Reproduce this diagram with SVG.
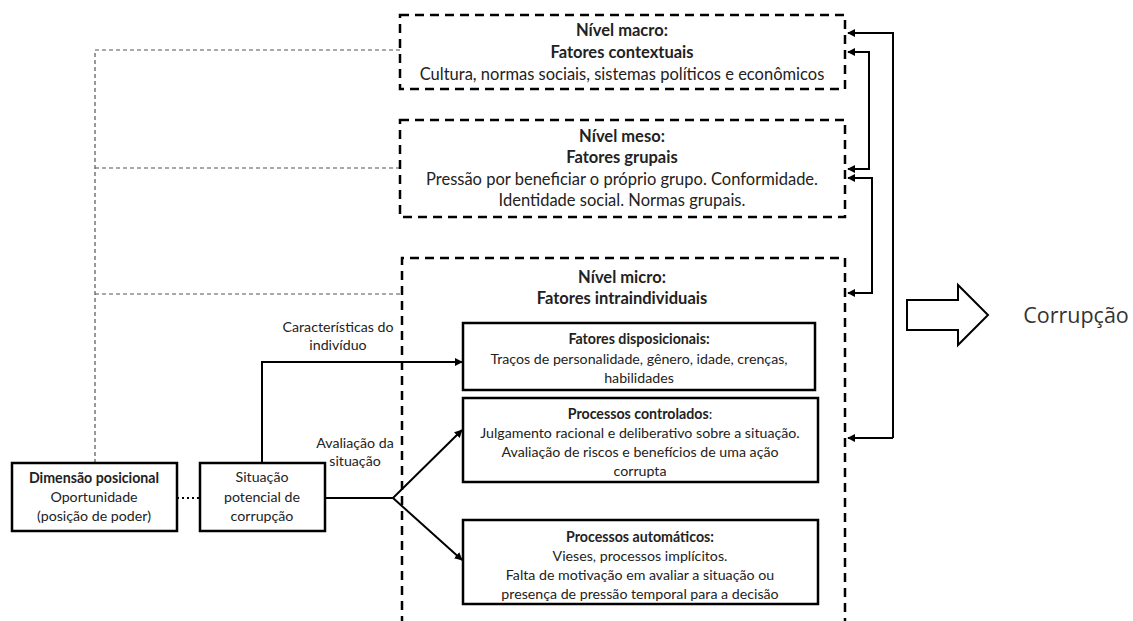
<svg xmlns="http://www.w3.org/2000/svg" width="1133" height="621" viewBox="0 0 1133 621">
<defs>
<marker id="ah" viewBox="0 0 10 10" refX="9" refY="5" markerWidth="4" markerHeight="4" orient="auto-start-reverse">
<path d="M0,0 L10,5 L0,10 z" fill="#000"/>
</marker>
<style>
text{font-family:Lato,"Liberation Sans",sans-serif;fill:#222;text-anchor:middle}
.h{font-size:16.5px;font-weight:bold}
.b{font-size:16.5px}
.s{font-size:14.2px}
.sb{font-size:14.2px;font-weight:bold}
.lvl{fill:none;stroke:#000;stroke-width:2.5;stroke-dasharray:9 6}
.box{fill:#fff;stroke:#000;stroke-width:2.5}
.guide{fill:none;stroke:#555;stroke-width:1.2;stroke-dasharray:4 3}
.con{fill:none;stroke:#000;stroke-width:2}
</style>
</defs>
<rect width="1133" height="621" fill="#fff"/>
<g id="guides">
<path class="guide" d="M95,463 V50 H400 M95,168 H400 M95,294 H402"/>
</g>
<g id="macro">
<rect class="lvl" x="400" y="15" width="445" height="74"/>
<text class="h" x="622" y="36">Nível macro:</text>
<text class="h" x="622" y="58">Fatores contextuais</text>
<text class="b" x="622" y="80">Cultura, normas sociais, sistemas políticos e econômicos</text>
</g>
<g id="meso">
<rect class="lvl" x="400" y="120" width="445" height="97"/>
<text class="h" x="622" y="142">Nível meso:</text>
<text class="h" x="622" y="163">Fatores grupais</text>
<text class="b" x="622" y="185">Pressão por beneficiar o próprio grupo. Conformidade.</text>
<text class="b" x="622" y="206">Identidade social. Normas grupais.</text>
</g>
<g id="micro">
<path class="lvl" d="M402,625 V258 H845 V625"/>
<text class="h" x="622" y="283">Nível micro:</text>
<text class="h" x="622" y="304">Fatores intraindividuais</text>
</g>
<g id="disposicionais">
<rect class="box" x="463" y="323" width="352" height="67"/>
<text class="sb" x="639" y="344">Fatores disposicionais:</text>
<text class="s" x="639" y="364">Traços de personalidade, gênero, idade, crenças,</text>
<text class="s" x="639" y="383">habilidades</text>
</g>
<g id="controlados">
<rect class="box" x="463" y="398" width="355" height="84"/>
<text class="sb" x="640" y="419">Processos controlados<tspan font-weight="normal">:</tspan></text>
<text class="s" x="640" y="438">Julgamento racional e deliberativo sobre a situação.</text>
<text class="s" x="640" y="457">Avaliação de riscos e benefícios de uma ação</text>
<text class="s" x="640" y="476">corrupta</text>
</g>
<g id="automaticos">
<rect class="box" x="463" y="520" width="355" height="84"/>
<text class="sb" x="640" y="542">Processos automáticos:</text>
<text class="s" x="640" y="561">Vieses, processos implícitos.</text>
<text class="s" x="640" y="580">Falta de motivação em avaliar a situação ou</text>
<text class="s" x="640" y="599">presença de pressão temporal para a decisão</text>
</g>
<g id="dimensao">
<rect class="box" x="12" y="463" width="165" height="68"/>
<text class="sb" x="94" y="483">Dimensão posicional</text>
<text class="s" x="94" y="502">Oportunidade</text>
<text class="s" x="94" y="521">(posição de poder)</text>
</g>
<g id="situacao">
<rect class="box" x="200" y="463" width="125" height="68"/>
<text class="s" x="262" y="482">Situação</text>
<text class="s" x="262" y="502">potencial de</text>
<text class="s" x="262" y="521">corrupção</text>
</g>
<g id="corrupcao">
<path d="M907,300 H958 V285 L988,315 L958,345 V330 H907 Z" fill="#fff" stroke="#000" stroke-width="2"/>
<text x="1076" y="323" style="font-family:'Open Sans',sans-serif;font-size:21.5px;fill:#333">Corrupção</text>
</g>
<g id="connectors">
<path class="con" d="M177,498 H200" stroke-dasharray="2 3" stroke-width="2.5"/>
<path class="con" d="M262,463 V362 H462" marker-end="url(#ah)"/>
<path class="con" d="M325,498 H393 L462,430" marker-end="url(#ah)"/>
<path class="con" d="M393,498 L462,560" marker-end="url(#ah)"/>
<path class="con" d="M893,438 V33 H848" marker-end="url(#ah)"/>
<path class="con" d="M893,438 H848" marker-end="url(#ah)"/>
<path class="con" d="M848,52 H869 V169 H848" marker-start="url(#ah)" marker-end="url(#ah)"/>
<path class="con" d="M848,178 H872 V293 H848" marker-start="url(#ah)" marker-end="url(#ah)"/>
</g>
<g id="labels">
<text class="s" x="338" y="332">Características do</text>
<text class="s" x="338" y="350">indivíduo</text>
<text class="s" x="355" y="448">Avaliação da</text>
<text class="s" x="355" y="466">situação</text>
</g>
</svg>
